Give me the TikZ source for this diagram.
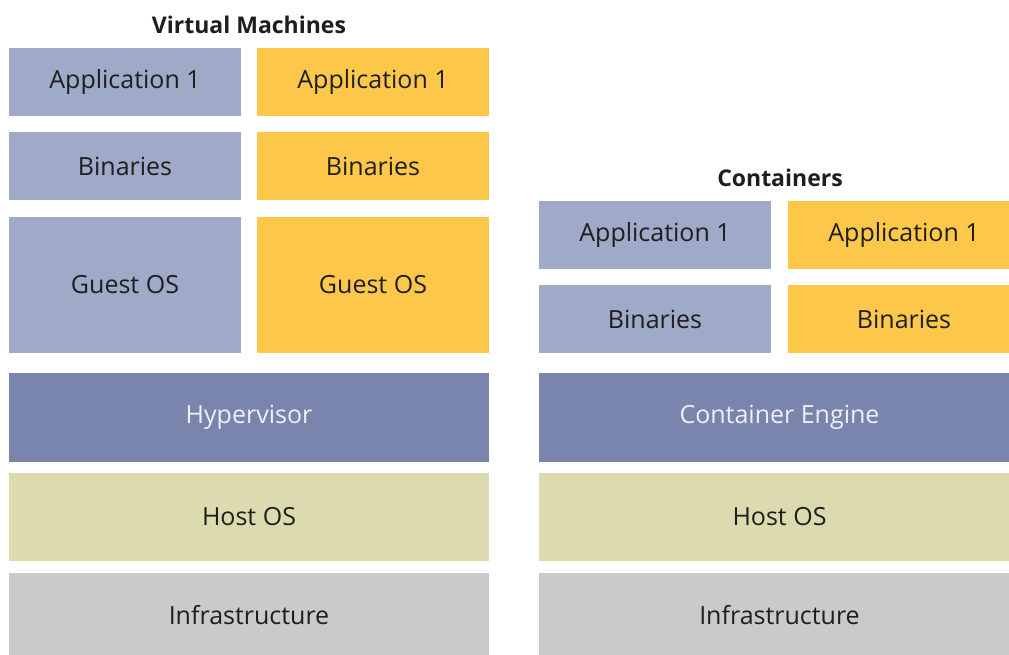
\documentclass[tikz,border=0pt]{standalone}
\usepackage{fontspec}
\setmainfont{Open Sans}
\definecolor{vmblue}{HTML}{9FA9C8}
\definecolor{appyellow}{HTML}{FDC84A}
\definecolor{layerblue}{HTML}{7A85AE}
\definecolor{hostolive}{HTML}{DCDBB0}
\definecolor{infragrey}{HTML}{CACACA}
\definecolor{labeldark}{HTML}{1E1E1E}
\definecolor{labellight}{HTML}{EEF0F6}
\tikzset{
  block/.style={rectangle, inner sep=0pt, outer sep=0pt, draw=none,
    font=\fontsize{25}{30}\selectfont, text=labeldark},
  title/.style={inner sep=0pt, font=\fontsize{23}{27}\selectfont\bfseries, text=labeldark},
}
\begin{document}
\begin{tikzpicture}[x=1pt, y=-1pt]
\clip (0,0) rectangle (1009,654);
\fill[white] (0,0) rectangle (1009,654);

% ---- Virtual machines stack ----
\node[title] (vmtitle) at (249,25) {Virtual Machines};
\node[block, fill=vmblue, minimum width=232pt, minimum height=68pt] (vmappa) at (125,82) {Application 1};
\node[block, fill=appyellow, minimum width=232pt, minimum height=68pt] (vmappb) at (373,82) {Application 1};
\node[block, fill=vmblue, minimum width=232pt, minimum height=68pt] (vmbina) at (125,166) {Binaries};
\node[block, fill=appyellow, minimum width=232pt, minimum height=68pt] (vmbinb) at (373,166) {Binaries};
\node[block, fill=vmblue, minimum width=232pt, minimum height=136pt] (vmosa) at (125,285) {Guest OS};
\node[block, fill=appyellow, minimum width=232pt, minimum height=136pt] (vmosb) at (373,285) {Guest OS};
\node[block, fill=layerblue, text=labellight, minimum width=480pt, minimum height=89pt] (hyper) at (249,417.5) {Hypervisor};
\node[block, fill=hostolive, minimum width=480pt, minimum height=88pt] (vmhost) at (249,517) {Host OS};
\node[block, fill=infragrey, minimum width=480pt, minimum height=88pt] (vminfra) at (249,617) {};
\node[block] (vminfratext) at (249,615) {Infrastructure};

% ---- Containers stack ----
\node[title] (cttitle) at (780,178) {Containers};
\node[block, fill=vmblue, minimum width=232pt, minimum height=68pt] (ctappa) at (655,235) {Application 1};
\node[block, fill=appyellow, minimum width=232pt, minimum height=68pt] (ctappb) at (904,235) {Application 1};
\node[block, fill=vmblue, minimum width=232pt, minimum height=68pt] (ctbina) at (655,319) {Binaries};
\node[block, fill=appyellow, minimum width=232pt, minimum height=68pt] (ctbinb) at (904,319) {Binaries};
\node[block, fill=layerblue, text=labellight, minimum width=481pt, minimum height=89pt] (engine) at (779.5,417.5) {Container Engine};
\node[block, fill=hostolive, minimum width=481pt, minimum height=88pt] (cthost) at (779.5,517) {Host OS};
\node[block, fill=infragrey, minimum width=481pt, minimum height=88pt] (ctinfra) at (779.5,617) {};
\node[block] (ctinfratext) at (779.5,615) {Infrastructure};
\end{tikzpicture}
\end{document}
